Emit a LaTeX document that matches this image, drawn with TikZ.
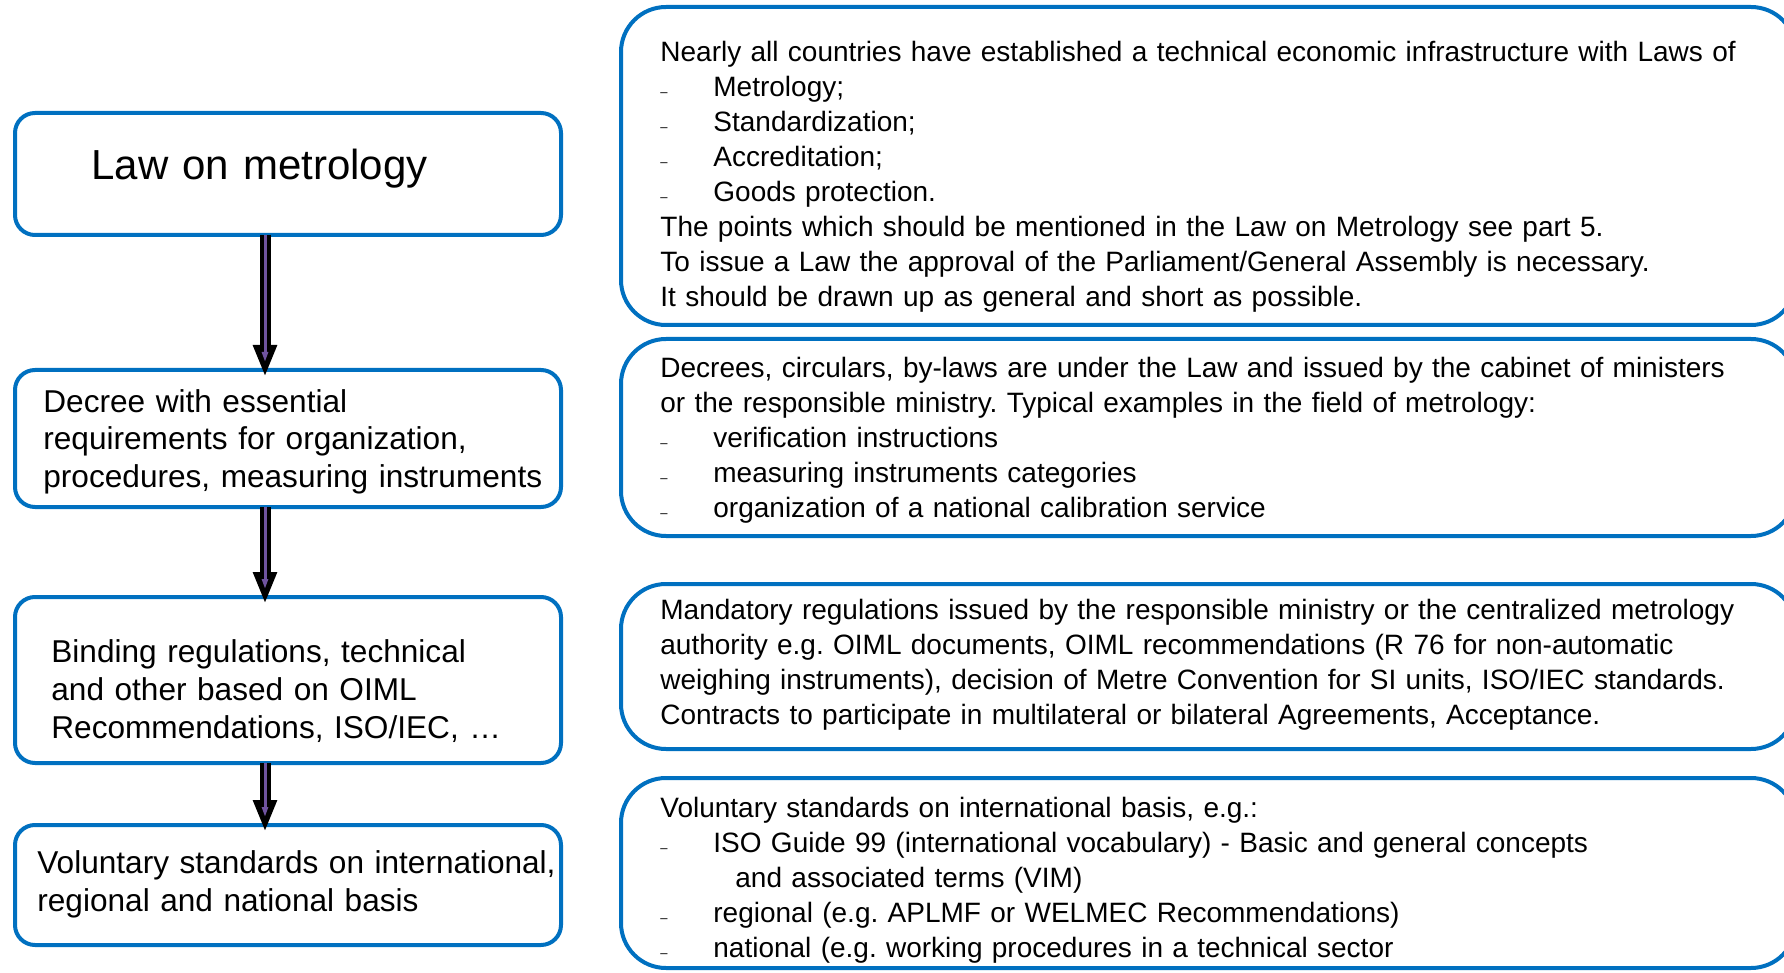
\documentclass[tikz,border=0pt]{standalone}
\usepackage{fontspec}
\setmainfont{Liberation Sans}
\usetikzlibrary{positioning, arrows.meta}
\definecolor{frameblue}{RGB}{0,112,192}
\definecolor{arrowpurple}{RGB}{112,84,160}

% small dash in front of the list lines
\newcommand{\dashitem}{\makebox[26.5pt][l]{\fontsize{6.5}{6.5}\selectfont –}}

\begin{document}
\frenchspacing
\begin{tikzpicture}[x=0.5pt, y=-0.5pt,
    stepbox/.style={draw=frameblue, line width=2pt, rounded corners=10pt,
        minimum width=273pt, inner sep=0pt, outer sep=0pt},
    notebox/.style={draw=frameblue, line width=2pt, rounded corners=22.5pt,
        minimum width=587.5pt, inner sep=0pt, outer sep=0pt},
    steptext/.style={anchor=base west, inner sep=0pt, text width=265pt, align=left,
        font=\fontsize{15.8}{19}\selectfont},
    notetext/.style={anchor=base west, inner sep=0pt, text width=580pt, align=left,
        font=\fontsize{14}{17.5}\selectfont},
    flowarrow/.style={draw=black, line width=5.5pt, shorten >=-3.5pt,
        -{Triangle[length=16pt, width=11pt]}},
    flowcore/.style={draw=arrowpurple, line width=1.5pt, shorten >=4pt,
        -{Triangle[length=5pt, width=3pt]}}]
    \useasboundingbox (0,0) rectangle (1784,973);

    % the four levels on the left
    \node[stepbox, minimum height=61pt, anchor=north west] (law) at (15,113) {};
    \node[stepbox, minimum height=68.5pt, below=67.5pt of law] (decree) {};
    \node[stepbox, minimum height=83pt, below=45pt of decree] (binding) {};
    \node[stepbox, minimum height=60pt, below=31pt of binding] (voluntary) {};

    \node[steptext, font=\fontsize{21}{25}\selectfont] (lawtxt)
        at ([xshift=38pt, yshift=-33.5pt]law.north west) {Law on metrology};
    \node[steptext] (decreetxt) at ([xshift=14pt, yshift=-21pt]decree.north west)
        {Decree with essential\\
         requirements for organization,\\
         procedures, measuring instruments};
    \node[steptext] (bindingtxt) at ([xshift=18pt, yshift=-32.5pt]binding.north west)
        {Binding regulations, technical\\
         and other based on OIML\\
         Recommendations, ISO/IEC, …};
    \node[steptext] (voluntarytxt) at ([xshift=11pt, yshift=-24pt]voluntary.north west)
        {Voluntary standards on international,\\
         regional and national basis};

    % explanations on the right
    \node[notebox, minimum height=159pt, anchor=north west] (laws) at (621,7) {};
    \node[notebox, minimum height=98.5pt, below=7pt of laws] (decrees) {};
    \node[notebox, minimum height=82.5pt, below=24pt of decrees] (mandatory) {};
    \node[notebox, minimum height=95pt, below=14.5pt of mandatory] (standards) {};

    \node[notetext] (lawsnote) at ([xshift=19.5pt, yshift=-27.5pt]laws.north west)
        {Nearly all countries have established a technical economic infrastructure with Laws of\\
         \dashitem Metrology;\\
         \dashitem Standardization;\\
         \dashitem Accreditation;\\
         \dashitem Goods protection.\\
         The points which should be mentioned in the Law on Metrology see part 5.\\
         To issue a Law the approval of the Parliament/General Assembly is necessary.\\
         It should be drawn up as general and short as possible.};
    \node[notetext] (decreesnote) at ([xshift=19.5pt, yshift=-19.5pt]decrees.north west)
        {Decrees, circulars, by-laws are under the Law and issued by the cabinet of ministers\\
         or the responsible ministry. Typical examples in the field of metrology:\\
         \dashitem verification instructions\\
         \dashitem measuring instruments categories\\
         \dashitem organization of a national calibration service};
    \node[notetext] (mandatorynote) at ([xshift=19.5pt, yshift=-17.5pt]mandatory.north west)
        {Mandatory regulations issued by the responsible ministry or the centralized metrology\\
         authority e.g. OIML documents, OIML recommendations (R 76 for non-automatic\\
         weighing instruments), decision of Metre Convention for SI units, ISO/IEC standards.\\
         Contracts to participate in multilateral or bilateral Agreements, Acceptance.};
    \node[notetext] (standardsnote) at ([xshift=19.5pt, yshift=-19.5pt]standards.north west)
        {Voluntary standards on international basis, e.g.:\\
         \dashitem ISO Guide 99 (international vocabulary) - Basic and general concepts\\
         \hspace*{37.5pt}and associated terms (VIM)\\
         \dashitem regional (e.g. APLMF or WELMEC Recommendations)\\
         \dashitem national (e.g. working procedures in a technical sector};

    % arrows between the levels, a little left of the box middle
    \foreach \a/\b in {law/decree, decree/binding, binding/voluntary} {
        \draw[flowarrow] ([xshift=-11.5pt]\a.south) -- ([xshift=-11.5pt]\b.north);
        \draw[flowcore] ([xshift=-11.5pt]\a.south) -- ([xshift=-11.5pt]\b.north);
    }
\end{tikzpicture}
\end{document}
